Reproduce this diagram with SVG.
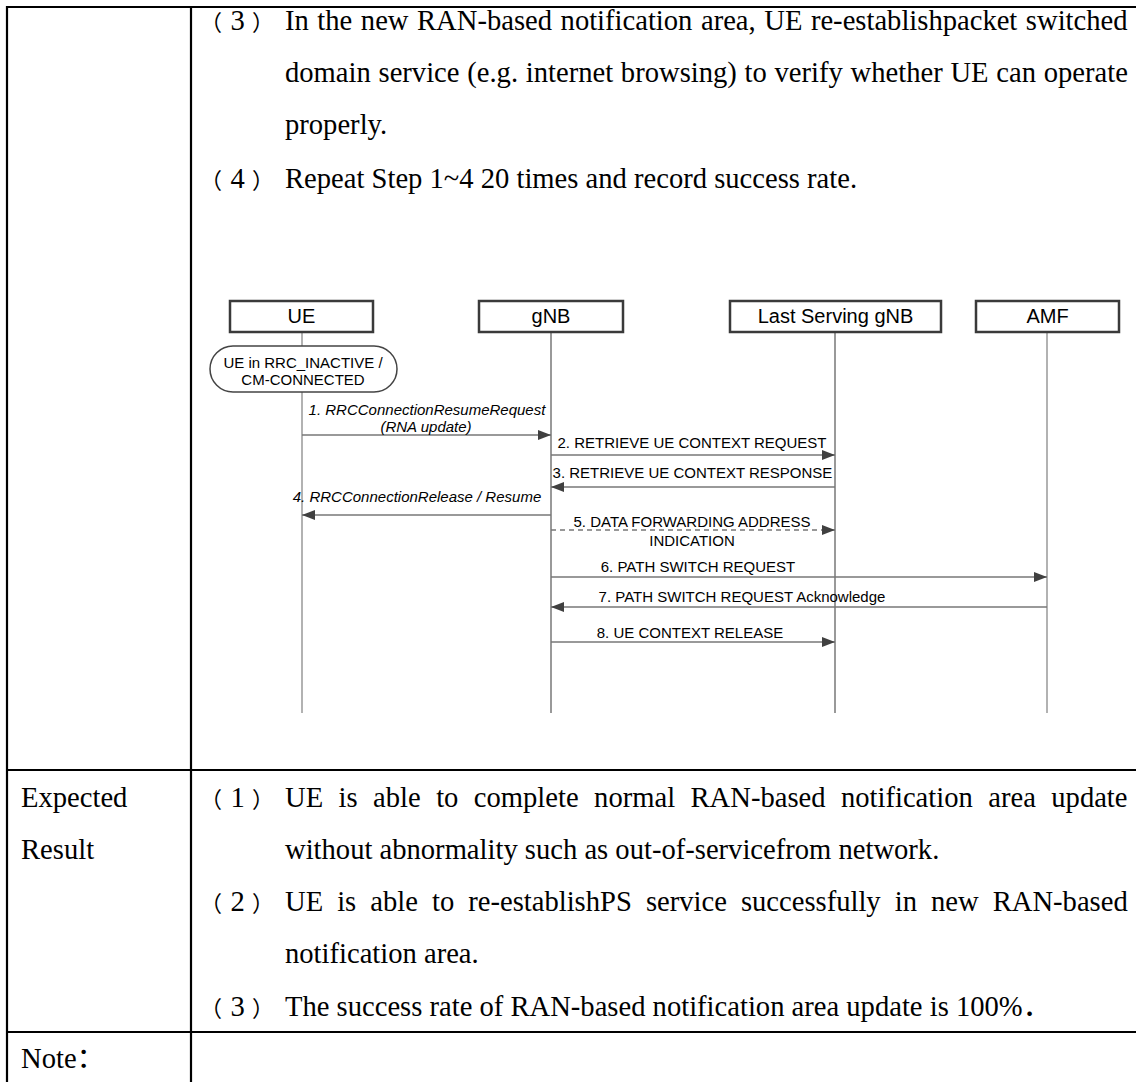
<svg xmlns="http://www.w3.org/2000/svg" width="1136" height="1082" viewBox="0 0 1136 1082">
<defs>
<style>
.body{font-family:"Liberation Serif","Times New Roman","Noto Sans CJK SC",serif;font-size:28.6px;fill:#000}
.cjk{font-family:"Noto Sans CJK SC","Liberation Serif",serif}
.par{font-family:"Noto Sans CJK SC","Liberation Serif",serif;font-size:22px}
.tbl{stroke:#000;stroke-width:2.2;fill:none}
.hdr rect{fill:#fff;stroke:#3a3a3a;stroke-width:2.5}
.hdr text{font-family:"Liberation Sans",Arial,sans-serif;font-size:20px;fill:#000;text-anchor:middle}
.life{fill:none}
.lbl{font-family:"Liberation Sans",Arial,sans-serif;font-size:15px;fill:#000;text-anchor:middle}
.it{font-style:italic}
.msg{stroke:#777;stroke-width:1.5;fill:none;marker-end:url(#ah)}
.dash{stroke-dasharray:5,4}
</style>
<marker id="ah" markerUnits="userSpaceOnUse" markerWidth="14" markerHeight="10" refX="13" refY="5" orient="auto">
<path d="M0,0 L13,5 L0,10 z" fill="#404040"/>
</marker>
</defs>
<rect width="1136" height="1082" fill="#fff"/>

<g id="table">
<line class="tbl" x1="6" y1="7" x2="1136" y2="7"/>
<line class="tbl" x1="7" y1="6" x2="7" y2="1082"/>
<line class="tbl" x1="191" y1="7" x2="191" y2="1082"/>
<line class="tbl" x1="7" y1="770" x2="1136" y2="770"/>
<line class="tbl" x1="7" y1="1032" x2="1136" y2="1032"/>
</g>

<g id="steps-text" class="body">
<text y="30"><tspan class="par" x="200">（</tspan><tspan x="230.5">3</tspan><tspan class="par" x="252">）</tspan></text>
<text x="285" y="30" word-spacing="1.4">In the new RAN-based notification area, UE re-establishpacket switched</text>
<text x="285" y="82" word-spacing="0.6">domain service (e.g. internet browsing) to verify whether UE can operate</text>
<text x="285" y="134">properly.</text>
<text y="188"><tspan class="par" x="200">（</tspan><tspan x="230.5">4</tspan><tspan class="par" x="252">）</tspan></text>
<text x="285" y="188">Repeat Step 1~4 20 times and record success rate.</text>
</g>

<g id="expected-text" class="body">
<text x="21" y="807">Expected</text>
<text x="21" y="859">Result</text>
<text y="807"><tspan class="par" x="200">（</tspan><tspan x="230.5">1</tspan><tspan class="par" x="252">）</tspan></text>
<text x="285" y="807" word-spacing="8.3">UE is able to complete normal RAN-based notification area update</text>
<text x="285" y="859">without abnormality such as out-of-servicefrom network.</text>
<text y="911"><tspan class="par" x="200">（</tspan><tspan x="230.5">2</tspan><tspan class="par" x="252">）</tspan></text>
<text x="285" y="911" word-spacing="6.9">UE is able to re-establishPS service successfully in new RAN-based</text>
<text x="285" y="963">notification area.</text>
<text y="1016"><tspan class="par" x="200">（</tspan><tspan x="230.5">3</tspan><tspan class="par" x="252">）</tspan></text>
<text x="285" y="1016">The success rate of RAN-based notification area update is 100%<tspan class="cjk">．</tspan></text>
<text x="21" y="1068">Note<tspan class="cjk">：</tspan></text>
</g>

<g id="lifelines" class="life">
<line x1="302" y1="332" x2="302" y2="713" stroke="#999" stroke-width="1.5"/>
<line x1="551" y1="332" x2="551" y2="713" stroke="#555" stroke-width="1.2"/>
<line x1="835" y1="332" x2="835" y2="713" stroke="#555" stroke-width="1.2"/>
<line x1="1047" y1="332" x2="1047" y2="713" stroke="#999" stroke-width="1.5"/>
</g>

<g id="node-ue" class="hdr"><rect x="230" y="301" width="143" height="31"/><text x="301.5" y="323">UE</text></g>
<g id="node-gnb" class="hdr"><rect x="479" y="301" width="144" height="31"/><text x="551" y="323">gNB</text></g>
<g id="node-lsgnb" class="hdr"><rect x="730" y="301" width="211" height="31"/><text x="835.5" y="323">Last Serving gNB</text></g>
<g id="node-amf" class="hdr"><rect x="976" y="301" width="143" height="31"/><text x="1047.5" y="323">AMF</text></g>

<g id="node-ue-state">
<rect x="210" y="346" width="187" height="46" rx="23" ry="23" fill="#fff" stroke="#444" stroke-width="1.5"/>
<text class="lbl" x="303" y="368">UE in RRC_INACTIVE /</text>
<text class="lbl" x="303" y="385">CM-CONNECTED</text>
</g>

<g id="connectors">
<line class="msg" x1="302" y1="435" x2="551" y2="435"/>
<line class="msg" x1="551" y1="455" x2="835" y2="455"/>
<line class="msg" x1="835" y1="487" x2="551" y2="487"/>
<line class="msg" x1="551" y1="515" x2="302" y2="515"/>
<line class="msg dash" x1="551" y1="530" x2="835" y2="530"/>
<line class="msg" x1="551" y1="577" x2="1047" y2="577"/>
<line class="msg" x1="1047" y1="607" x2="551" y2="607"/>
<line class="msg" x1="551" y1="642" x2="835" y2="642"/>
</g>

<g id="labels">
<text class="lbl it" x="427" y="415">1. RRCConnectionResumeRequest</text>
<text class="lbl it" x="426" y="432">(RNA update)</text>
<text class="lbl" x="692" y="448">2. RETRIEVE UE CONTEXT REQUEST</text>
<text class="lbl" x="692.5" y="478">3. RETRIEVE UE CONTEXT RESPONSE</text>
<text class="lbl it" x="417" y="502">4. RRCConnectionRelease / Resume</text>
<text class="lbl" x="692" y="527">5. DATA FORWARDING ADDRESS</text>
<text class="lbl" x="692" y="546">INDICATION</text>
<text class="lbl" x="698" y="572">6. PATH SWITCH REQUEST</text>
<text class="lbl" x="742" y="602">7. PATH SWITCH REQUEST Acknowledge</text>
<text class="lbl" x="690" y="638">8. UE CONTEXT RELEASE</text>
</g>
</svg>
